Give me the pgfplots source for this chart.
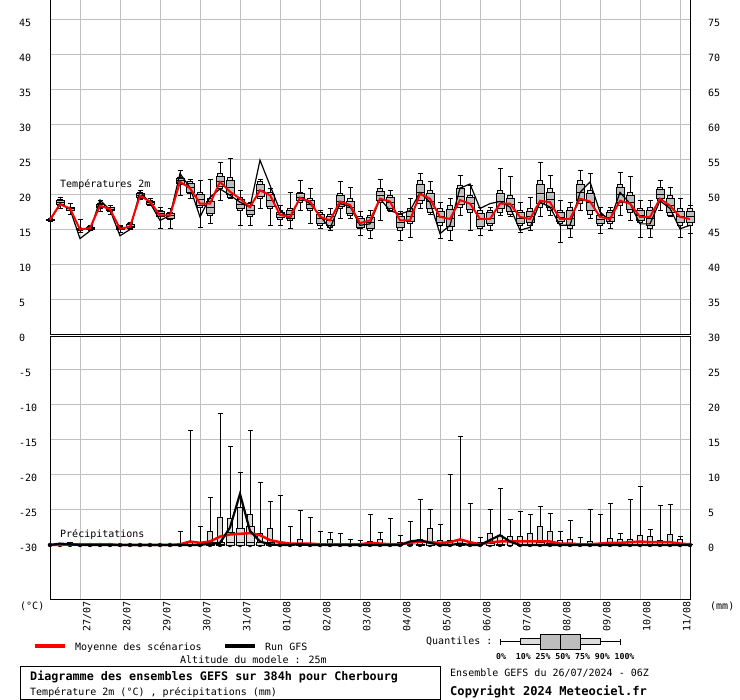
\documentclass[border=0pt]{standalone}
\usepackage{pgfplots}
\usepackage{pgfplotstable}
\pgfplotsset{compat=1.18}
\usepackage{fontspec}
\setmainfont{DejaVu Sans Mono}
\definecolor{gridgray}{RGB}{192,192,192}
\definecolor{boxdark}{RGB}{190,190,190}
\definecolor{boxlight}{RGB}{220,220,220}
\newcommand\rt{\fontsize{10}{12}\selectfont}
\newcommand\bt{\fontsize{11.75}{14}\selectfont\bfseries}

\pgfplotstableread{
i min p10 p25 p50 p75 p90 max mean gfs
0 16.2 16.3 16.33 16.4 16.47 16.5 16.6 16.4 16.3
1 18.0 18.4 18.53 18.8 19.17 19.3 19.5 18.6 18.7
2 17.2 17.7 17.78 17.95 18.13 18.2 18.7 18.0 17.9
3 14.6 14.9 14.95 15.05 15.15 15.2 16.4 15.0 13.7
4 14.8 15.0 15.06 15.2 15.34 15.4 15.6 15.2 14.8
5 17.5 18.0 18.1 18.35 18.6 18.7 19.2 18.4 19.2
6 17.2 17.6 17.7 17.9 18.1 18.2 18.4 17.9 17.8
7 14.6 15.0 15.06 15.2 15.34 15.4 15.6 15.1 14.1
8 15.0 15.2 15.3 15.5 15.7 15.8 16.0 15.4 15.0
9 19.3 19.5 19.62 19.9 20.18 20.3 20.6 19.8 20.4
10 18.4 18.5 18.6 18.8 19.0 19.1 19.4 19.0 18.8
11 15.2 16.8 16.93 17.25 17.57 17.7 18.2 17.0 16.3
12 15.2 16.5 16.65 17.0 17.35 17.5 18.0 17.0 17.0
13 19.9 21.5 21.65 22.0 22.35 22.5 23.4 21.8 23.0
14 19.4 20.1 20.35 20.95 21.55 21.8 22.2 20.9 21.0
15 15.3 18.2 18.5 19.25 20.0 20.3 22.0 18.7 16.8
16 15.8 17.0 17.35 18.2 19.05 19.4 22.2 18.7 19.6
17 19.1 20.8 21.1 21.9 22.6 22.95 24.6 21.8 20.8
18 19.4 19.6 20.05 21.05 22.05 22.5 25.1 20.4 19.9
19 15.6 17.7 18.0 18.65 19.3 19.6 20.6 19.4 18.9
20 15.6 16.8 17.1 17.75 18.4 18.7 18.9 18.2 18.2
21 18.0 19.4 19.75 20.6 21.45 21.8 22.2 20.6 24.9
22 15.6 18.0 18.35 19.15 19.95 20.3 20.8 19.9 21.3
23 15.6 16.5 16.7 17.1 17.5 17.7 18.4 17.1 17.7
24 15.2 16.3 16.55 17.15 17.75 18.0 20.3 16.8 16.5
25 17.7 18.9 19.1 19.6 20.1 20.3 22.0 19.5 19.6
26 15.8 17.7 17.95 18.55 19.15 19.4 20.8 19.0 18.7
27 15.1 15.6 15.9 16.55 17.2 17.5 17.7 16.8 17.0
28 14.9 15.3 15.6 16.25 16.9 17.2 18.0 16.3 15.1
29 16.5 18.0 18.3 19.05 19.8 20.1 21.8 19.0 18.7
30 16.5 17.0 17.35 18.2 19.05 19.4 21.0 18.5 18.3
31 14.1 15.1 15.35 15.95 16.55 16.8 17.5 15.9 15.6
32 13.7 14.9 15.2 15.95 16.7 17.0 17.7 16.3 15.8
33 16.3 18.9 19.2 19.85 20.5 20.8 22.2 19.4 19.4
34 17.5 17.7 18.05 18.8 19.55 19.9 20.6 19.0 17.7
35 13.4 14.9 15.25 16.05 16.85 17.2 17.5 16.3 17.2
36 13.9 15.8 16.15 16.9 17.65 18.0 19.4 16.3 17.7
37 18.0 18.7 19.2 20.35 21.5 22.0 22.95 20.1 20.3
38 17.2 17.5 17.95 19.05 20.15 20.6 21.8 19.4 18.9
39 13.7 15.6 15.95 16.8 17.65 18.0 18.9 16.8 14.4
40 13.4 14.9 15.45 16.65 17.85 18.4 19.4 16.5 15.6
41 17.0 18.2 18.65 19.75 20.85 21.3 22.7 19.2 20.9
42 14.9 17.5 17.85 18.7 19.55 19.9 21.3 18.7 21.5
43 14.1 15.1 15.5 16.4 17.3 17.7 18.2 16.5 18.0
44 14.9 15.6 15.9 16.65 17.4 17.7 18.2 16.5 18.7
45 17.0 17.5 17.95 19.05 20.15 20.6 23.7 18.7 19.0
46 16.8 17.2 17.6 18.55 19.5 19.9 22.5 18.7 18.2
47 14.6 15.6 15.9 16.65 17.4 17.7 18.9 16.8 14.9
48 14.9 15.6 15.95 16.8 17.65 18.0 19.6 16.5 15.3
49 16.8 18.2 18.75 20.1 21.45 22.0 24.6 19.1 18.9
50 17.0 17.7 18.15 19.25 20.35 20.8 22.7 18.9 18.2
51 13.2 15.8 16.1 16.75 17.4 17.7 19.1 16.5 15.6
52 13.9 15.1 15.55 16.65 17.75 18.2 18.9 16.5 15.6
53 17.7 18.7 19.2 20.35 21.5 22.0 23.4 19.4 20.3
54 16.5 17.2 17.7 18.9 20.1 20.6 22.95 19.0 21.8
55 14.4 15.6 15.85 16.4 16.95 17.2 18.2 16.8 17.5
56 15.1 15.8 16.1 16.75 17.4 17.7 18.2 16.5 16.3
57 17.0 18.4 18.85 19.95 21.05 21.5 23.2 19.1 20.3
58 16.3 17.5 17.9 18.9 19.9 20.3 22.5 18.7 18.7
59 13.9 16.0 16.3 17.0 17.7 18.0 19.1 16.8 15.8
60 13.9 15.1 15.55 16.65 17.75 18.2 19.1 16.8 15.8
61 17.7 19.1 19.4 20.05 20.7 21.0 22.0 19.4 19.1
62 16.8 17.0 17.45 18.45 19.45 19.9 21.0 18.4 18.0
63 13.9 15.6 15.95 16.8 17.65 18.0 19.4 16.8 15.1
64 14.4 15.6 15.95 16.8 17.65 18.0 18.4 16.5 15.6
}\temp

\pgfplotstableread{
i max p50 p75 p90 mean gfs
0 0 0 0 0 0 0
1 0 0 0 0 0 0.2
2 0.3 0 0.1 0.3 0.1 0.1
3 0 0 0 0 0.1 0
4 0 0 0 0 0.1 0
5 0 0 0 0 0.1 0
6 0 0 0 0 0.1 0
7 0 0 0 0 0 0
8 0 0 0 0 0 0
9 0 0 0 0 0 0
10 0 0 0 0 0 0
11 0 0 0 0 0 0
12 0 0 0 0 0 0
13 1.9 0 0 0 0.1 0
14 16.3 0 0.1 0.3 0.5 0
15 2.6 0 0 0.2 0.3 0
16 6.8 0.1 0.3 1.9 0.5 0.2
17 18.8 0.1 0.4 4.0 1.2 0.3
18 14.1 0.3 1.8 3.8 1.5 2.5
19 10.3 0.4 2.3 5.3 1.6 7.3
20 16.3 0.3 2.6 4.3 1.7 2.0
21 8.9 0 0.3 1.6 1.4 0.5
22 6.2 0 0.4 2.4 0.7 0.1
23 7.0 0 0 0.1 0.4 0
24 2.6 0 0 0 0.2 0
25 4.9 0 0.1 0.8 0.2 0.1
26 3.9 0 0 0 0.2 0
27 1.9 0 0 0 0.1 0
28 1.8 0 0 0.8 0.1 0
29 1.6 0 0 0 0.1 0
30 0.8 0 0 0 0.1 0
31 0.7 0 0 0 0.1 0
32 4.4 0 0 0.5 0.3 0
33 1.8 0 0 0.8 0.2 0
34 3.8 0 0 0.1 0.1 0
35 1.4 0 0 0.4 0.1 0
36 3.4 0 0 0.1 0.3 0.5
37 6.5 0 0.1 0.8 0.5 0.7
38 5.0 0 0.3 2.3 0.4 0.3
39 2.9 0 0 0.7 0.3 0
40 10.0 0 0 0.7 0.4 0
41 15.5 0 0.1 0.8 0.8 0.2
42 5.9 0 0 0.1 0.4 0
43 1.0 0 0 0.4 0.1 0
44 5.0 0 0.2 1.6 0.4 0.7
45 8.0 0 0.1 1.3 0.5 1.4
46 3.6 0 0 1.2 0.5 0.5
47 4.8 0 0 1.2 0.5 0
48 4.3 0 0 1.6 0.5 0
49 5.5 0 0.3 2.6 0.5 0
50 4.5 0 0.2 2.0 0.5 0
51 1.9 0 0 0.6 0.2 0
52 3.5 0 0 0.8 0.2 0
53 1.0 0 0 0 0.1 0
54 5.0 0 0 0.5 0.1 0
55 4.3 0 0 0 0.2 0
56 5.9 0 0 0.9 0.3 0
57 1.6 0 0 0.8 0.3 0
58 6.5 0 0 0.8 0.4 0
59 8.3 0 0.1 1.3 0.5 0
60 2.2 0 0 1.2 0.4 0
61 5.6 0 0 0.6 0.4 0
62 5.8 0 0.1 1.5 0.4 0
63 1.2 0 0 0.8 0.2 0
64 0 0 0 0 0.1 0
}\prec

\pgfplotsset{
  upper/.style={at={(50pt,365.5pt)}, anchor=south west, scale only axis, width=640pt, height=336pt, xmin=0, xmax=64, ymin=0, ymax=48},
  lower/.style={at={(50pt,100pt)}, anchor=south west, scale only axis, width=640pt, height=263.5pt, xmin=0, xmax=64, ymin=-7.857, ymax=29.786},
  ovl/.style={hide axis, clip=false},
  every tick label/.append style={font=\rt},
  bgaxis/.style={axis line style={black, line width=1pt}, grid=major, major grid style={gridgray, line width=1pt}, major tick length=0pt, xtick={3,7,...,63}},
}
\begin{document}
\begin{tikzpicture}
% ---------- upper panel background ----------
\begin{axis}[upper, bgaxis, xticklabels={},
  ytick={0,5,...,45}, yticklabels={0,5,10,15,20,25,30,35,40,45},
  yticklabel style={anchor=west, inner sep=0pt, xshift=-31pt, yshift=-3pt}]
\end{axis}
\begin{axis}[upper, axis line style={draw=none}, major tick length=0pt, xtick=\empty,
  ytick={0,5,...,45}, yticklabels={30,35,40,45,50,55,60,65,70,75}, yticklabel pos=right,
  yticklabel style={anchor=west, inner sep=0pt, xshift=18pt, yshift=-3pt}]
\end{axis}
% ---------- lower panel background ----------
\begin{axis}[lower, bgaxis,
  xticklabels={27/07,28/07,29/07,30/07,31/07,01/08,02/08,03/08,04/08,05/08,06/08,07/08,08/08,09/08,10/08,11/08},
  xticklabel style={xshift=2.7pt, yshift=-1.7pt, rotate=90, anchor=north east, inner sep=0pt},
  ytick={0,5,...,25}, yticklabels={-30,-25,-20,-15,-10,-5},
  yticklabel style={anchor=west, inner sep=0pt, xshift=-31pt, yshift=-3pt}]
\end{axis}
\begin{axis}[lower, axis line style={draw=none}, major tick length=0pt, xtick=\empty,
  ytick={0,5,...,25}, yticklabels={0,5,10,15,20,25}, yticklabel pos=right,
  yticklabel style={anchor=west, inner sep=0pt, xshift=18pt, yshift=-3pt}]
\end{axis}

% ---------- temperature whiskers ----------
\begin{axis}[upper, ovl]
\addplot[only marks, mark=none, error bars/.cd, y dir=both, y explicit,
  error bar style={draw=black, line width=1pt},
  error mark options={rotate=90, draw=black, line width=1pt, mark size=2.5pt}]
  table[x=i, y=p50, y error plus expr=\thisrow{max}-\thisrow{p50}, y error minus expr=\thisrow{p50}-\thisrow{min}] {\temp};
\end{axis}
% ---------- temperature boxes ----------
\begin{axis}[upper, ovl, ybar stacked]
\addplot[draw=none, fill=none, bar width=8pt] table[x=i, y=p10] {\temp};
\addplot[draw=black, line width=0.8pt, fill=boxlight, bar width=5pt] table[x=i, y expr=\thisrow{p25}-\thisrow{p10}] {\temp};
\addplot[draw=black, line width=0.8pt, fill=boxdark, bar width=8pt] table[x=i, y expr=\thisrow{p50}-\thisrow{p25}] {\temp};
\addplot[draw=black, line width=0.8pt, fill=boxdark, bar width=8pt] table[x=i, y expr=\thisrow{p75}-\thisrow{p50}] {\temp};
\addplot[draw=black, line width=0.8pt, fill=boxlight, bar width=5pt] table[x=i, y expr=\thisrow{p90}-\thisrow{p75}] {\temp};
\end{axis}
% ---------- temperature lines ----------
\begin{axis}[upper, ovl]
\addplot[black, line width=1.2pt, mark=none] table[x=i, y=gfs] {\temp};
\addplot[red, line width=2pt, mark=none] table[x=i, y=mean] {\temp};
\end{axis}

% ---------- precipitation whiskers ----------
\begin{axis}[lower, ovl]
\addplot[only marks, mark=none, error bars/.cd, y dir=plus, y explicit,
  error bar style={draw=black, line width=1pt},
  error mark options={rotate=90, draw=black, line width=1pt, mark size=2.5pt}]
  table[x=i, y expr=0, y error=max] {\prec};
\end{axis}
% ---------- precipitation boxes ----------
\begin{axis}[lower, ovl, ybar stacked]
\addplot[draw=black, line width=0.8pt, fill=boxlight, bar width=8pt] table[x=i, y=p50] {\prec};
\addplot[draw=black, line width=0.8pt, fill=boxlight, bar width=8pt] table[x=i, y expr=\thisrow{p75}-\thisrow{p50}] {\prec};
\addplot[draw=black, line width=0.8pt, fill=boxlight, bar width=5pt] table[x=i, y expr=\thisrow{p90}-\thisrow{p75}] {\prec};
\end{axis}
% ---------- precipitation lines ----------
\begin{axis}[lower, ovl]
\addplot[red, line width=2.5pt, mark=none] table[x=i, y=mean] {\prec};
\addplot[black, line width=2.2pt, mark=none] table[x=i, y=gfs] {\prec};
\end{axis}

% ---------- texts ----------
\node[anchor=base west, inner sep=0pt, font=\rt] at (60pt,512.3pt) {Températures 2m};
\node[anchor=base west, inner sep=0pt, font=\rt] at (60pt,162.3pt) {Précipitations};
\node[anchor=base west, inner sep=0pt, font=\rt] at (20pt,90pt) {(°C)};
\node[anchor=base west, inner sep=0pt, font=\rt] at (710pt,90pt) {(mm)};

\draw[red, line width=4pt] (35pt,53.5pt) -- (65pt,53.5pt);
\node[anchor=base west, inner sep=0pt, font=\rt] at (75pt,49.3pt) {Moyenne des scénarios};
\draw[black, line width=4pt] (225pt,53.5pt) -- (255pt,53.5pt);
\node[anchor=base west, inner sep=0pt, font=\rt] at (265pt,49.3pt) {Run GFS};
\node[anchor=base west, inner sep=0pt, font=\rt] at (180pt,36.7pt) {Altitude du modele : 25m};

\draw[black, line width=1pt] (20.5pt,0.5pt) rectangle (440.5pt,33.5pt);
\node[anchor=base west, inner sep=0pt, font=\bt] at (30pt,19.3pt) {Diagramme des ensembles GEFS sur 384h pour Cherbourg};
\node[anchor=base west, inner sep=0pt, font=\rt] at (30pt,4.3pt) {Température 2m (°C) , précipitations (mm)};

\node[anchor=base west, inner sep=0pt, font=\rt] at (426pt,55pt) {Quantiles :};
\draw[black, line width=1pt] (500.7pt,58pt) -- (620pt,58pt);
\draw[black, line width=1pt] (500.7pt,55pt) -- (500.7pt,61pt);
\draw[black, line width=1pt] (620pt,55pt) -- (620pt,61pt);
\draw[black, line width=1pt, fill=boxlight] (520.7pt,55pt) rectangle (540.7pt,61pt);
\draw[black, line width=1pt, fill=boxlight] (580.7pt,55pt) rectangle (600.3pt,61pt);
\draw[black, line width=1pt, fill=boxdark] (540.7pt,50pt) rectangle (580.7pt,65pt);
\draw[black, line width=1pt] (560.7pt,50pt) -- (560.7pt,65pt);
\node[anchor=base west, inner sep=0pt, font=\fontsize{8.2}{10}\selectfont\bfseries] at (496pt,40.7pt) {0\%\ \ 10\% 25\% 50\% 75\% 90\% 100\%};

\node[anchor=base west, inner sep=0pt, font=\rt] at (450pt,23.3pt) {Ensemble GEFS du 26/07/2024 - 06Z};
\node[anchor=base west, inner sep=0pt, font=\fontsize{12.1}{14}\selectfont\bfseries] at (450pt,4pt) {Copyright 2024 Meteociel.fr};

\pgfresetboundingbox
\path[use as bounding box] (0pt,0pt) rectangle (740pt,700pt);
\end{tikzpicture}
\end{document}
